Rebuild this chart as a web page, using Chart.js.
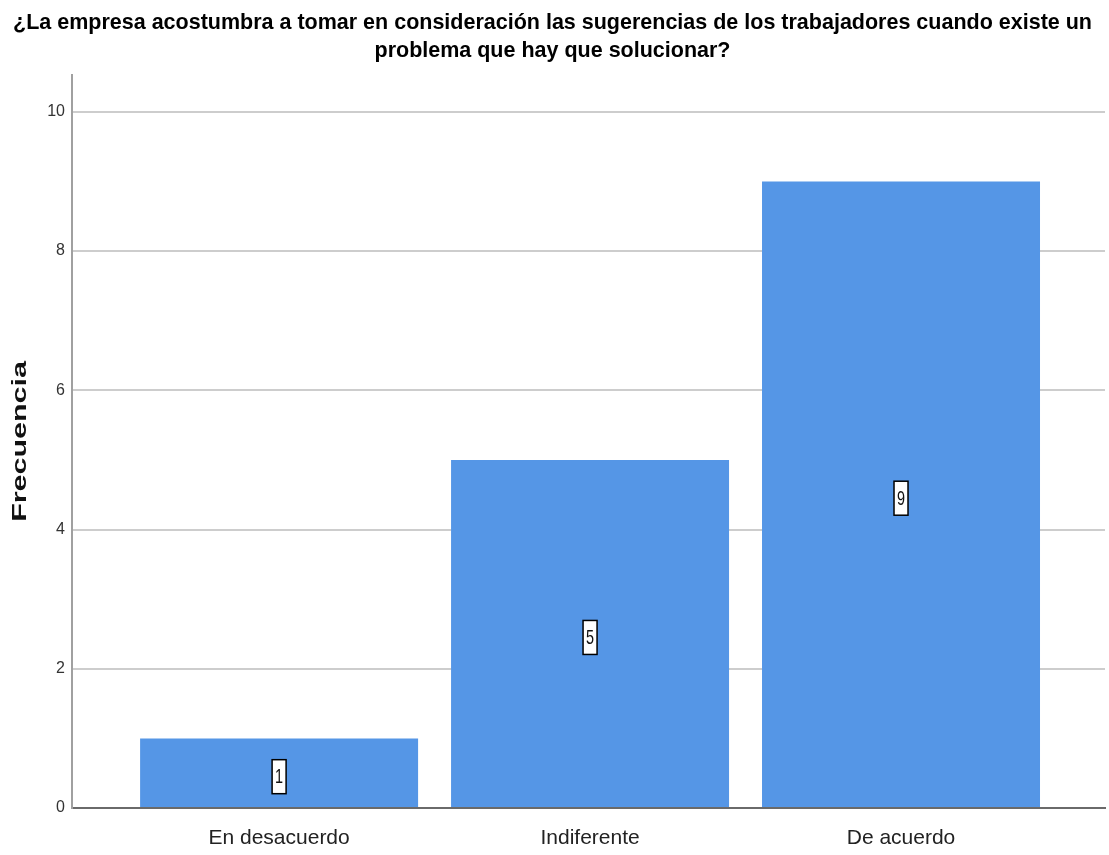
<!DOCTYPE html>
<html>
<head>
<meta charset="utf-8">
<script src="https://cdn.jsdelivr.net/npm/chart.js@4/dist/chart.umd.min.js"></script>
<style>
  html, body { margin: 0; padding: 0; background: #fff; }
  #wrap { width: 1109px; height: 855px; }
</style>
</head>
<body>
<div id="wrap"><canvas id="chart"></canvas></div>
<script>
const categories = ['En desacuerdo', 'Indiferente', 'De acuerdo'];
const frecuencia = [1, 5, 9];
const yTicks = [0, 2, 4, 6, 8, 10];
const yTitle = 'Frecuencia';
const titleLines = [
    '¿La empresa acostumbra a tomar en consideración las sugerencias de los trabajadores cuando existe un',
    'problema que hay que solucionar?'
];

const sans = "'Liberation Sans', Arial, sans-serif";

// etiquetas blancas con borde negro al centro de cada barra
const valueBoxes = {
    id: 'valueBoxes',
    afterDatasetsDraw(chart) {
        const ctx = chart.ctx;
        const meta = chart.getDatasetMeta(0);
        ctx.save();
        ctx.font = '17px ' + sans;
        ctx.textAlign = 'center';
        ctx.textBaseline = 'middle';
        meta.data.forEach((bar, i) => {
            const cx = bar.x;
            const cy = (bar.y + bar.base) / 2 + 4;
            const w = 14, h = 34;
            ctx.fillStyle = '#fff';
            ctx.fillRect(cx - w / 2, cy - h / 2, w, h);
            ctx.strokeStyle = '#000';
            ctx.lineWidth = 1.5;
            ctx.strokeRect(cx - w / 2, cy - h / 2, w, h);
            ctx.fillStyle = '#111';
            ctx.save();
            ctx.translate(cx, cy + 1);
            ctx.scale(0.85, 1.15);
            ctx.fillText(String(frecuencia[i]), 0, 0);
            ctx.restore();
        });
        ctx.restore();
    }
};

// titulo del eje Y, ensanchado como en el original
const yAxisTitle = {
    id: 'yAxisTitle',
    afterDraw(chart) {
        const ctx = chart.ctx;
        const area = chart.chartArea;
        ctx.save();
        ctx.translate(20, (area.top + area.bottom) / 2);
        ctx.rotate(-Math.PI / 2);
        ctx.scale(1.45, 1);
        ctx.font = 'bold 21px ' + sans;
        ctx.fillStyle = '#111';
        ctx.textAlign = 'center';
        ctx.textBaseline = 'middle';
        ctx.fillText(yTitle, 0, 0);
        ctx.restore();
    }
};

new Chart(document.getElementById('chart'), {
    type: 'bar',
    data: {
        datasets: [{
            data: frecuencia.map((v, i) => ({ x: i, y: v })),
            backgroundColor: '#5596e6',
            borderWidth: 0,
            barPercentage: 0.894,
            categoryPercentage: 1
        }]
    },
    options: {
        responsive: true,
        maintainAspectRatio: false,
        animation: false,
        layout: { padding: { left: 0, right: 4, top: 0, bottom: 0 } },
        plugins: {
            legend: { display: false },
            tooltip: { enabled: false },
            title: {
                display: true,
                text: titleLines,
                color: '#000',
                font: { family: sans, size: 21.5, weight: 'bold', lineHeight: 1.3 },
                padding: { top: 9, bottom: 10 }
            }
        },
        scales: {
            x: {
                type: 'linear',
                offset: false,
                min: -0.666,
                max: 2.656,
                afterBuildTicks: (scale) => { scale.ticks = categories.map((c, i) => ({ value: i })); },
                afterFit: (scale) => { scale.height = 47; },
                grid: { display: false, offset: false },
                border: { display: true, color: '#6a6a6a', width: 2 },
                ticks: {
                    callback: (v) => categories[v],
                    color: '#222',
                    padding: 10,
                    maxRotation: 0,
                    font: { family: sans, size: 21 }
                }
            },
            y: {
                min: 0,
                max: 10.53,
                afterBuildTicks: (scale) => { scale.ticks = yTicks.map(v => ({ value: v })); },
                afterFit: (scale) => { scale.width = 72; },
                grid: {
                    color: (c) => c.tick && c.tick.value === 0 ? 'rgba(0,0,0,0)' : '#cdcdcd',
                    lineWidth: 2,
                    drawTicks: false
                },
                border: { display: true, color: '#a0a0a0', width: 2 },
                ticks: {
                    color: '#333',
                    padding: 7,
                    font: { family: sans, size: 16 }
                }
            }
        }
    },
    plugins: [valueBoxes, yAxisTitle]
});
</script>
</body>
</html>
